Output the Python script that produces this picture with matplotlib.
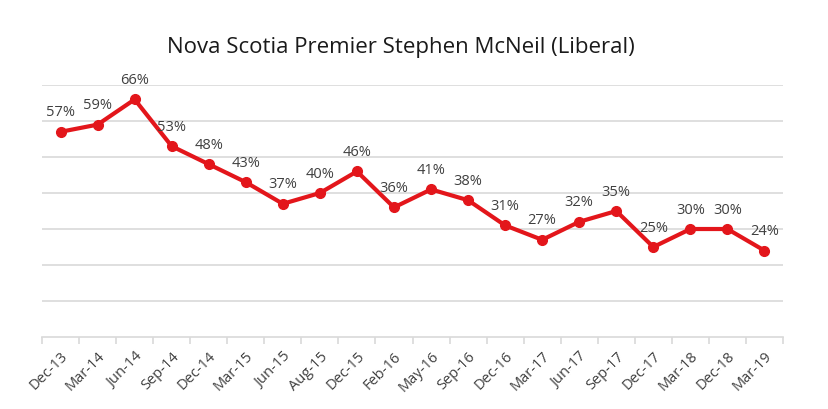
import matplotlib
matplotlib.use("Agg")
import matplotlib.pyplot as plt
import numpy as np

# poll dates and approval values
dates = ["Dec-13", "Mar-14", "Jun-14", "Sep-14", "Dec-14", "Mar-15", "Jun-15",
         "Aug-15", "Dec-15", "Feb-16", "May-16", "Sep-16", "Dec-16", "Mar-17",
         "Jun-17", "Sep-17", "Dec-17", "Mar-18", "Dec-18", "Mar-19"]
approval = [57, 59, 66, 53, 48, 43, 37, 40, 46, 36, 41, 38, 31, 27, 32, 35,
            25, 30, 30, 24]

plt.rcParams['font.family'] = ['Open Sans', 'DejaVu Sans']

fig = plt.figure(figsize=(8.29, 4.10), dpi=100)
ax = fig.add_axes([0.0507, 0.1756, 0.8938, 0.6146])

x = np.arange(len(dates))
red = '#e3161b'
ax.plot(x, approval, color=red, linewidth=3, marker='o', markersize=7,
        solid_joinstyle='round', zorder=3)

for xi, v in zip(x, approval):
    ax.annotate(f"{v}%", (xi, v), xytext=(0, 9), textcoords='offset points',
                ha='center', va='bottom', fontsize=10.5, color='#404040')

ax.set_xlim(-0.5, len(dates) - 0.5)
ax.set_ylim(0, 70)
ax.set_yticks(range(10, 80, 10))
ax.set_yticklabels([])
ax.tick_params(axis='y', length=0)
ax.grid(axis='y', color='#d9d9d9', linewidth=1.2)
ax.set_axisbelow(True)

ax.set_xticks(x)
ax.set_xticklabels(dates, rotation=45, ha='right', rotation_mode='anchor',
                   fontsize=10.5, color='#404040')
ax.tick_params(axis='x', which='major', length=0, pad=8)
ax.set_xticks(np.arange(-0.5, len(dates)), minor=True)
ax.tick_params(axis='x', which='minor', length=5, color='#d9d9d9', width=1.2)

for s in ['top', 'right', 'left']:
    ax.spines[s].set_visible(False)
ax.spines['bottom'].set_color('#d9d9d9')
ax.spines['bottom'].set_linewidth(1.2)

fig.text(0.484, 0.885, "Nova Scotia Premier Stephen McNeil (Liberal)",
         ha='center', va='center', fontsize=16, color='#1a1a1a')

fig.savefig("out.png", dpi=100)
